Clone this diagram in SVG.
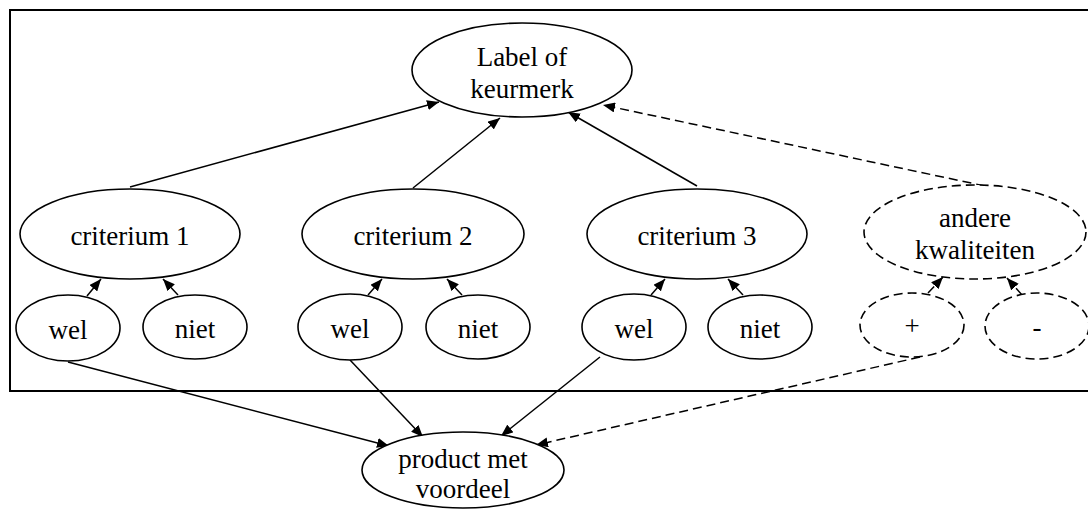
<svg xmlns="http://www.w3.org/2000/svg" width="1088" height="509" viewBox="0 0 1088 509">
<style>
.n{fill:#fff;stroke:#000;stroke-width:1.6}
.d{stroke-dasharray:9 5}
.t{font-family:"Liberation Serif","Times New Roman",serif;font-size:27px;fill:#000;text-anchor:middle}
.e{fill:none;stroke:#000;stroke-width:1.5}
</style>
<defs>
<marker id="a" viewBox="0 0 12 10" refX="12" refY="5" markerWidth="12" markerHeight="10" markerUnits="userSpaceOnUse" orient="auto">
<path d="M0,0 L12,5 L0,10 z" fill="#000"/>
</marker>
</defs>
<rect x="10" y="10" width="1090" height="381" fill="none" stroke="#000" stroke-width="2"/>
<g id="edges">
<path class="e" d="M130,187 L439,102" marker-end="url(#a)"/>
<path class="e" d="M413,188 L500,118" marker-end="url(#a)"/>
<path class="e" d="M697,186 L568,112" marker-end="url(#a)"/>
<path class="e d" d="M985,186 L603,105" marker-end="url(#a)"/>
<path class="e" d="M87,296 L101,279" marker-end="url(#a)"/>
<path class="e" d="M178,295 L163,279" marker-end="url(#a)"/>
<path class="e" d="M368,295 L382,279" marker-end="url(#a)"/>
<path class="e" d="M462,295 L447,279" marker-end="url(#a)"/>
<path class="e" d="M651,295 L665,279" marker-end="url(#a)"/>
<path class="e" d="M743,295 L728,279" marker-end="url(#a)"/>
<path class="e d" d="M928,293 L943,277" marker-end="url(#a)"/>
<path class="e d" d="M1022,295 L1007,278" marker-end="url(#a)"/>
<path class="e" d="M68,362 L389,446" marker-end="url(#a)"/>
<path class="e" d="M350,360 L423,437" marker-end="url(#a)"/>
<path class="e" d="M600,357 L501,436" marker-end="url(#a)"/>
<path class="e d" d="M920,357 L536,445" marker-end="url(#a)"/>
</g>
<g id="label"><ellipse class="n" cx="522" cy="70" rx="110" ry="47"/><text class="t" x="522" y="66">Label of</text><text class="t" x="522" y="98">keurmerk</text></g>
<g id="crit1"><ellipse class="n" cx="130" cy="234" rx="110" ry="45"/><text class="t" x="130" y="245">criterium 1</text></g>
<g id="crit2"><ellipse class="n" cx="413" cy="234" rx="111" ry="45"/><text class="t" x="413" y="245">criterium 2</text></g>
<g id="crit3"><ellipse class="n" cx="697" cy="234" rx="110" ry="45"/><text class="t" x="697" y="245">criterium 3</text></g>
<g id="andere"><ellipse class="n d" cx="975" cy="232" rx="111" ry="47"/><text class="t" x="975" y="227">andere</text><text class="t" x="975" y="259">kwaliteiten</text></g>
<g id="wel1"><ellipse class="n" cx="68" cy="328" rx="52" ry="33"/><text class="t" x="68" y="339">wel</text></g>
<g id="niet1"><ellipse class="n" cx="195" cy="327" rx="52" ry="32"/><text class="t" x="195" y="338">niet</text></g>
<g id="wel2"><ellipse class="n" cx="350" cy="327" rx="52" ry="33"/><text class="t" x="350" y="338">wel</text></g>
<g id="niet2"><ellipse class="n" cx="478" cy="327" rx="52" ry="32"/><text class="t" x="478" y="338">niet</text></g>
<g id="wel3"><ellipse class="n" cx="634" cy="327" rx="52" ry="33"/><text class="t" x="634" y="338">wel</text></g>
<g id="niet3"><ellipse class="n" cx="760" cy="327" rx="52" ry="32"/><text class="t" x="760" y="338">niet</text></g>
<g id="plus"><ellipse class="n d" cx="912" cy="325" rx="52" ry="32"/><text class="t" x="912" y="335">+</text></g>
<g id="minus"><ellipse class="n d" cx="1037" cy="326" rx="52" ry="33"/><text class="t" x="1037" y="336">-</text></g>
<g id="product"><ellipse class="n" cx="463" cy="470" rx="101" ry="38"/><text class="t" x="463" y="468">product met</text><text class="t" x="463" y="498">voordeel</text></g>
</svg>
